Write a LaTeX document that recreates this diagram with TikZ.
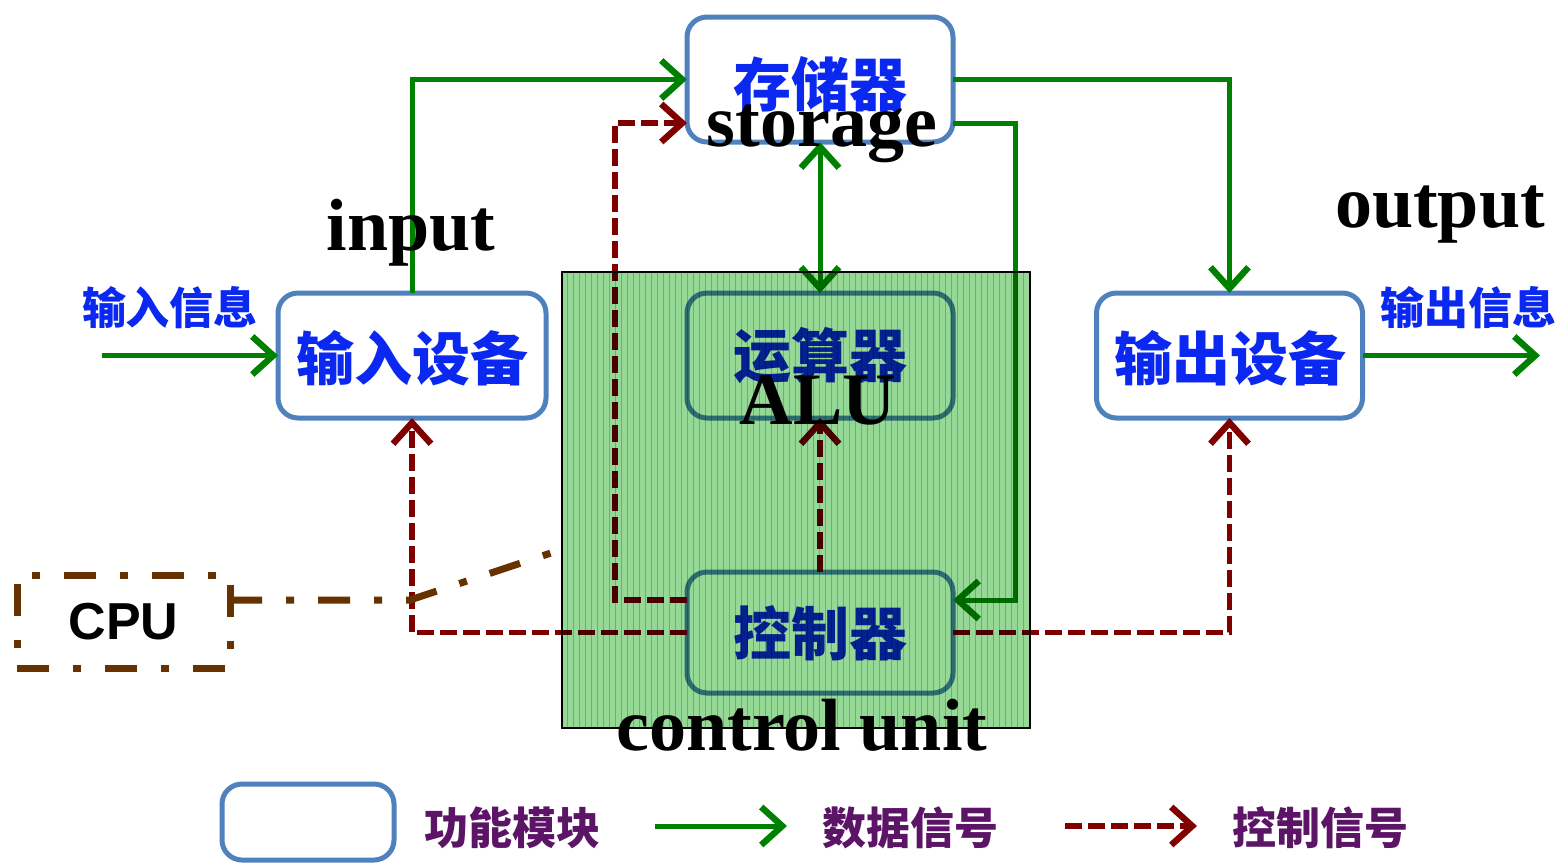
\documentclass[tikz,border=0pt]{standalone}
\usepackage{fontspec}
\setmainfont{Liberation Serif}
\setsansfont{Liberation Sans}
\newfontfamily\cjk{Noto Sans CJK SC}
\usetikzlibrary{arrows.meta,calc}
\definecolor{boxblue}{HTML}{4F81BD}
\definecolor{txtblue}{HTML}{0A28F0}
\definecolor{dgreen}{HTML}{008000}
\definecolor{dred}{HTML}{800000}
\definecolor{cpubrown}{HTML}{663300}
\definecolor{legpurple}{HTML}{5C1566}
\definecolor{ovgreen}{HTML}{96D896}
\definecolor{ovline}{HTML}{6FC06F}
\tikzset{
  fbox/.style={draw=boxblue, line width=2.5pt, rounded corners=10pt, fill=white, inner sep=0pt, outer sep=0pt, minimum width=133pt, minimum height=62.5pt},
  barb/.tip={Straight Barb[length=10.5pt,width=19pt,line width=3.2pt]},
  data/.style={draw=dgreen, line width=2.5pt, -barb},
  ctrl/.style={draw=dred, line width=2.8pt, dash pattern=on 8.5pt off 3pt, -barb},
  cpuline/.style={draw=cpubrown, line width=3.5pt, dash pattern=on 16pt off 12pt on 4pt off 12pt},
  cjkbig/.style={font=\cjk\bfseries\fontsize{29}{34}\selectfont, text=txtblue, inner sep=0pt},
  cjksmall/.style={font=\cjk\bfseries\fontsize{22}{26}\selectfont, text=txtblue, inner sep=0pt},
  legtext/.style={font=\cjk\bfseries\fontsize{22}{26}\selectfont, text=legpurple, inner sep=0pt},
  entext/.style={font=\bfseries\fontsize{37}{44}\selectfont, text=black, inner sep=0pt, anchor=base},
}
\begin{document}
\begin{tikzpicture}[x=0.5pt,y=-0.5pt]
\useasboundingbox (0,0) rectangle (1559,864);

% function boxes
\node[fbox] (sto) at (820,79.5) {};
\node[fbox, minimum width=134pt] (inp) at (412,355.5) {};
\node[fbox] (alu) at (820,355.5) {};
\node[fbox, minimum height=60.5pt] (ctl) at (820,632.5) {};
\node[fbox] (out) at (1229.5,355.5) {};

\node[cjkbig] (tsto) at (820,84) {存储器};
\node[cjkbig] (tinp) at (412,358) {输入设备};
\node[cjkbig] (talu) at (820,356) {运算器};
\node[cjkbig] (tctl) at (820,633) {控制器};
\node[cjkbig] (tout) at (1230,358) {输出设备};

\node[cjksmall] (inlab) at (170,308) {输入信息};
\node[cjksmall] (outlab) at (1468,308) {输出信息};

% helper coordinates
\coordinate (s2) at ($(sto.west)+(0,43.5)$);
\coordinate (s3) at ($(sto.east)+(0,43.5)$);
\coordinate (c2) at ($(ctl.west)+(0,-32.5)$);
\coordinate (c3) at ($(ctl.east)+(0,-32.5)$);
\coordinate (inbeg) at (102,355.5);
\coordinate (outend) at (1540,355.5);

% data signals
\draw[data] (inp.north) |- (sto.west);
\draw[data] (sto.east) -| (out.north);
\draw[data] (s3) -- ++(62,0) |- (c3);
\draw[data, barb-barb] (alu.north) -- (sto.south);
\draw[data] (inbeg) -- (inp.west);
\draw[data] (out.east) -- (outend);

% control signals
\draw[ctrl] (c2) -- ++(-72,0) |- (s2);
\draw[ctrl] (ctl.west) -| (inp.south);
\draw[ctrl] (ctl.east) -| (out.south);
\draw[ctrl] (ctl.north) -- (alu.south);

% CPU box and pointer
\node[cpuline, minimum width=106.5pt, minimum height=46.5pt, inner sep=0pt, outer sep=0pt,
      font=\sffamily\bfseries\fontsize{26}{30}\selectfont] (cpu) at (123.5,621.5) {CPU};
\coordinate (cpuend) at (560,550);
\draw[cpuline] ($(cpu.east)+(0,-21.5)$) -- ++(180,0) -- (cpuend);

% green overlay (CPU region)
\begin{scope}[blend mode=multiply]
\fill[ovgreen] (562,272) rectangle (1030,728);
\foreach \x in {567,573,...,1027} \draw[ovline, line width=0.3pt, opacity=0.6] (\x,272) -- (\x,728);
\end{scope}
\draw[black, line width=1pt] (562,272) rectangle (1030,728);

% English labels
\node[entext] (esto) at (822,146) {storage};
\node[entext] (einp) at (411,250) {input};
\node[entext] (eout) at (1440,227) {output};
\node[entext] (ealu) at (818,424) {ALU};
\node[entext] (ectl) at (802,750) {control unit};

% legend
\node[fbox, minimum width=86pt, minimum height=38pt] (legbox) at (308,822) {};
\node[legtext] (leg1) at (512,828) {功能模块};
\coordinate (lg1) at (655,826);
\coordinate (lg2) at (787,826);
\draw[data] (lg1) -- (lg2);
\node[legtext] (leg2) at (910,828) {数据信号};
\coordinate (lr1) at (1065,826);
\coordinate (lr2) at (1197,826);
\draw[ctrl] (lr1) -- (lr2);
\node[legtext] (leg3) at (1320,828) {控制信号};
\end{tikzpicture}
\end{document}
